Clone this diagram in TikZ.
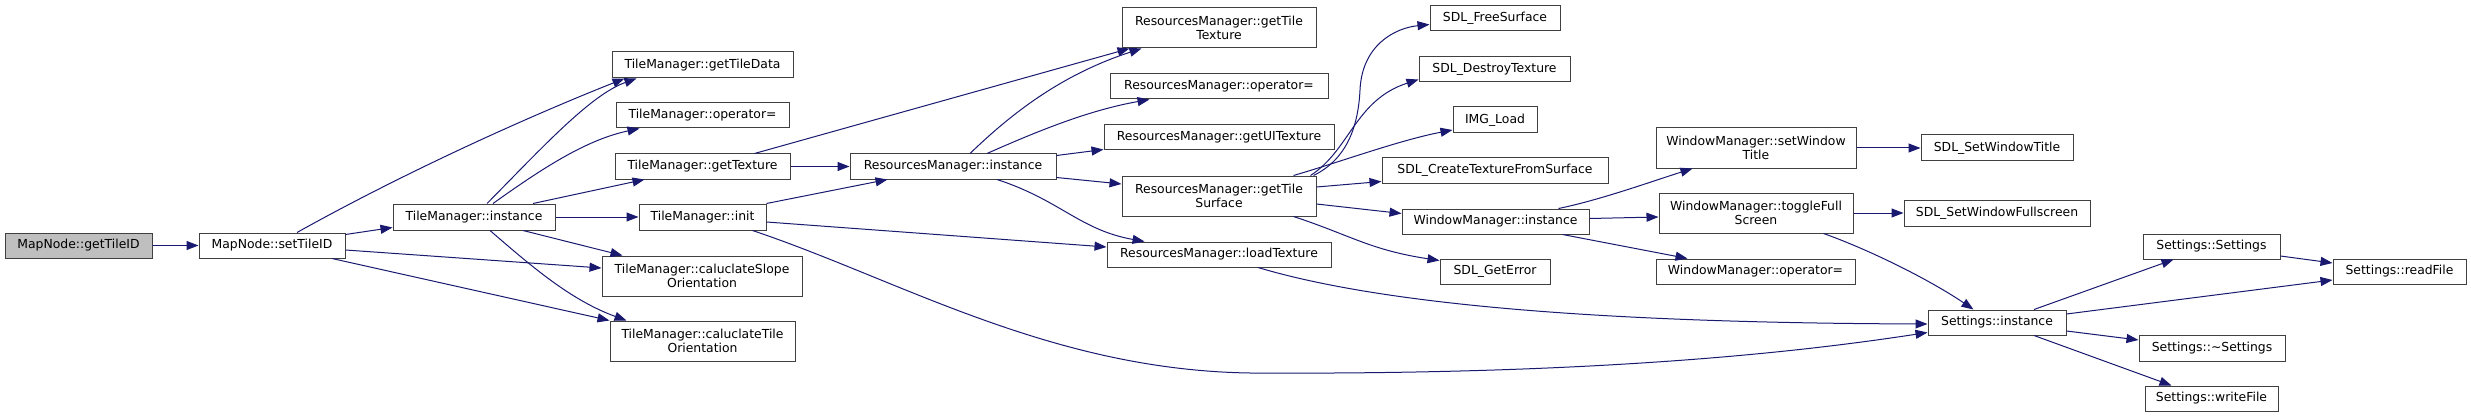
\documentclass[tikz,border=0pt]{standalone}
\usepackage{fontspec}
\setmainfont{DejaVu Sans}
\usetikzlibrary{arrows.meta}
\definecolor{edgeblue}{RGB}{25,25,112}
\definecolor{boxgray}{RGB}{64,64,64}
\definecolor{rootgray}{RGB}{191,191,191}
\newcommand\dgfont{\fontsize{12.4}{14.7}\selectfont}
\tikzset{
  box/.style={draw=boxgray, line width=1pt, fill=white, inner sep=0pt, align=center, font=\dgfont, minimum height=25pt},
  rootbox/.style={box, fill=rootgray},
  tallbox/.style={minimum height=40pt},
  edge/.style={draw=edgeblue, line width=1pt, -{Triangle[length=12pt,width=9pt]}},
}
\begin{document}
\begin{tikzpicture}[x=1pt,y=-1pt]
\useasboundingbox (0,0) rectangle (2471,417);
% nodes
\node[rootbox, minimum width=147pt] (n0) at (78.5,245.5) {MapNode::getTileID};
\node[box, minimum width=146pt] (n1) at (272,245.5) {MapNode::setTileID};
\node[box, minimum width=181pt, minimum height=26pt] (n2) at (702.5,65) {TileManager::getTileData};
\node[box, minimum width=173pt] (n3) at (702.5,115.5) {TileManager::operator=};
\node[box, minimum width=175pt] (n4) at (702.5,166.5) {TileManager::getTexture};
\node[box, minimum width=162pt, minimum height=26pt] (n5) at (474,217) {TileManager::instance};
\node[box, minimum width=127pt, minimum height=26pt] (n6) at (702.5,217) {TileManager::init};
\node[box, tallbox, minimum width=200pt] (n7) at (702,276) {TileManager::caluclateSlope\\Orientation};
\node[box, tallbox, minimum width=185pt] (n8) at (702.5,341) {TileManager::caluclateTile\\Orientation};
\node[box, tallbox, minimum width=194pt] (n9) at (1219,28) {ResourcesManager::getTile\\Texture};
\node[box, minimum width=218pt] (n10) at (1219,86.5) {ResourcesManager::operator=};
\node[box, minimum width=230pt] (n11) at (1219,137.5) {ResourcesManager::getUITexture};
\node[box, minimum width=206pt] (n12) at (953,166.5) {ResourcesManager::instance};
\node[box, tallbox, minimum width=194pt] (n13) at (1219,196) {ResourcesManager::getTile\\Surface};
\node[box, minimum width=224pt] (n14) at (1219,254.5) {ResourcesManager::loadTexture};
\node[box, minimum width=130pt] (n15) at (1495,18.5) {SDL\_FreeSurface};
\node[box, minimum width=151pt] (n16) at (1494.5,69.5) {SDL\_DestroyTexture};
\node[box, minimum width=84pt, minimum height=26pt] (n17) at (1495,120) {IMG\_Load};
\node[box, minimum width=226pt] (n18) at (1495,170.5) {SDL\_CreateTextureFromSurface};
\node[box, minimum width=187pt] (n19) at (1495.5,221.5) {WindowManager::instance};
\node[box, minimum width=110pt] (n20) at (1495,271.5) {SDL\_GetError};
\node[box, tallbox, minimum width=200pt] (n21) at (1756,148) {WindowManager::setWindow\\Title};
\node[box, tallbox, minimum width=194pt] (n22) at (1756,213) {WindowManager::toggleFull\\Screen};
\node[box, minimum width=199pt] (n23) at (1755.5,271.5) {WindowManager::operator=};
\node[box, minimum width=152pt, minimum height=26pt] (n24) at (1997,148) {SDL\_SetWindowTitle};
\node[box, minimum width=186pt, minimum height=26pt] (n25) at (1997,213) {SDL\_SetWindowFullscreen};
\node[box, minimum width=138pt] (n26) at (1997,322.5) {Settings::instance};
\node[box, minimum width=137pt] (n27) at (2211.5,246.5) {Settings::Settings};
\node[box, minimum width=133pt] (n28) at (2399.5,271.5) {Settings::readFile};
\node[box, minimum width=146pt, minimum height=26pt] (n29) at (2212,348) {Settings::\textasciitilde Settings};
\node[box, minimum width=133pt] (n30) at (2211.5,398.5) {Settings::writeFile};
% edges
\draw[edge] (n0) -- (n1);
\draw[edge] ([xshift=25pt]n1.north) .. controls (400,175) and (520,120) .. ([xshift=13pt]n2.south west);
\draw[edge] ([yshift=-2pt]n1.north east) -- ([yshift=3pt]n5.south west);
\draw[edge] ([yshift=-4.5pt]n1.east) -- ([yshift=8pt]n7.west);
\draw[edge] ([xshift=60pt]n1.south) -- (n8.north west);
\draw[edge] ([xshift=13pt]n5.north) .. controls (540,150) and (590,95) .. ([xshift=25pt]n2.south west);
\draw[edge] ([xshift=19pt]n5.north) .. controls (540,170) and (585,140) .. ([xshift=24pt]n3.south west);
\draw[edge] ([xshift=59pt]n5.north) -- ([xshift=30pt]n4.south west);
\draw[edge] (n5) -- (n6);
\draw[edge] ([xshift=49pt]n5.south) -- ([xshift=21pt]n7.north west);
\draw[edge] ([xshift=16pt]n5.south) .. controls (530,265) and (570,300) .. ([xshift=17pt]n8.north west);
\draw[edge] ([xshift=52pt]n4.north) -- ([xshift=8pt]n9.south west);
\draw[edge] (n4) -- (n12);
\draw[edge] (n6.north east) -- ([xshift=38pt]n12.south west);
\draw[edge] ([yshift=-5pt]n6.east) -- ([yshift=7.5pt]n14.west);
\draw[edge] ([xshift=50pt]n6.south) .. controls (900,280) and (1050,370) .. (1250,373) .. controls (1600,375) and (1800,352) .. ([yshift=-10pt]n26.west);
\draw[edge] ([xshift=17pt]n12.north) .. controls (1010,115) and (1060,75) .. ([xshift=20pt]n9.south west);
\draw[edge] ([xshift=34pt]n12.north) .. controls (1040,130) and (1090,110) .. ([xshift=40pt]n10.south west);
\draw[edge] ([yshift=11pt]n12.east) -- ([yshift=1pt]n11.south west);
\draw[edge] ([yshift=-11pt]n12.east) -- ([yshift=12pt]n13.west);
\draw[edge] ([xshift=44pt]n12.south) .. controls (1060,200) and (1080,230) .. ([xshift=38pt]n14.north west);
\draw[edge] ([xshift=-3pt]n13.north east) .. controls (1345,160) and (1358,130) .. (1360,90) .. controls (1362,45) and (1395,28) .. ([yshift=-6pt]n15.west);
\draw[edge] ([xshift=-6pt]n13.north east) .. controls (1350,150) and (1355,100) .. ([yshift=-10pt]n16.west);
\draw[edge] ([xshift=-23pt]n13.north east) .. controls (1340,162) and (1400,140) .. ([yshift=-10pt]n17.west);
\draw[edge] ([yshift=9pt]n13.east) -- ([yshift=-11pt]n18.west);
\draw[edge] ([yshift=-8pt]n13.east) -- ([yshift=8pt]n19.west);
\draw[edge] ([xshift=-23pt]n13.south east) .. controls (1350,235) and (1370,250) .. ([yshift=-2pt]n20.north west);
\draw[edge] ([xshift=39pt]n14.south) .. controls (1400,310) and (1650,323) .. ([yshift=-1.5pt]n26.west);
\draw[edge] ([xshift=-31pt]n19.north east) .. controls (1600,200) and (1650,182) .. ([xshift=37pt]n21.south west);
\draw[edge] ([yshift=3pt]n19.east) -- ([yshift=-4pt]n22.west);
\draw[edge] ([xshift=-27pt]n19.south east) -- ([xshift=32pt]n23.north west);
\draw[edge] (n21) -- (n24);
\draw[edge] (n22) -- (n25);
\draw[edge] ([xshift=-30pt]n22.south east) .. controls (1870,250) and (1930,280) .. ([xshift=46pt]n26.north west);
\draw[edge] ([xshift=37pt]n26.north) -- ([xshift=31pt]n27.south west);
\draw[edge] ([yshift=8.5pt]n26.east) -- ([yshift=-8.5pt]n28.west);
\draw[edge] ([yshift=-8.5pt]n26.east) -- ([yshift=8pt]n29.west);
\draw[edge] ([xshift=37pt]n26.south) -- ([xshift=27pt]n30.north west);
\draw[edge] ([yshift=-9.5pt]n27.east) -- ([yshift=8.5pt]n28.west);
\end{tikzpicture}
\end{document}
